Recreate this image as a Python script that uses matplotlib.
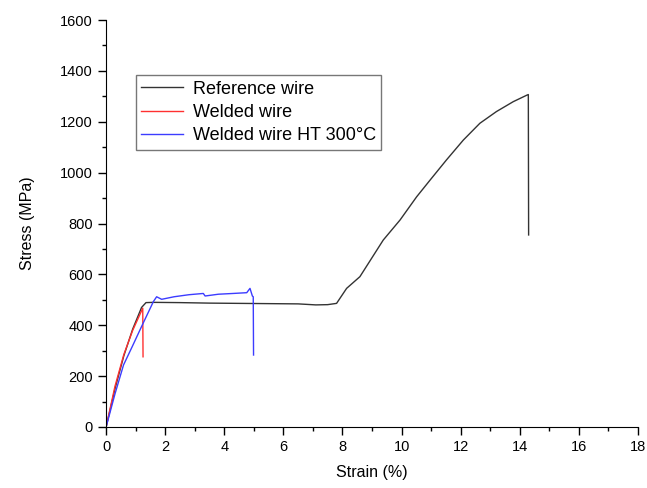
import matplotlib.pyplot as plt
from matplotlib.ticker import MultipleLocator

plt.rcParams['font.family'] = ['Liberation Sans', 'DejaVu Sans']

# Reference wire
ref_strain = [0, 0.3, 0.6, 0.9, 1.2, 1.35, 1.6, 2.5, 3.5, 4.5, 5.5, 6.5, 7.1, 7.5,
              7.8, 8.14, 8.59, 9.38, 9.95, 10.51, 10.96, 11.52, 12.09, 12.65,
              13.21, 13.78, 14.23, 14.29, 14.3]
ref_stress = [0, 150, 280, 385, 470, 489, 490, 489, 487, 486, 485, 484, 480, 481,
              486, 545, 591, 735, 814, 905, 970, 1050, 1128, 1194,
              1240, 1279, 1304, 1307, 755]

# Welded wire
weld_strain = [0, 0.3, 0.6, 0.9, 1.24, 1.25]
weld_stress = [0, 160, 285, 380, 467, 276]

# Welded wire HT 300°C
ht_strain = [0, 0.3, 0.59, 0.9, 1.2, 1.6, 1.71, 1.88, 2.3, 2.8, 3.29, 3.35, 3.8,
             4.3, 4.76, 4.87, 4.95, 4.98, 4.99]
ht_stress = [0, 130, 244, 320, 395, 493, 512, 502, 512, 520, 525, 515, 522,
             525, 528, 545, 515, 512, 283]

fig = plt.figure(figsize=(6.47, 4.88), dpi=100)
ax = fig.add_axes([0.164, 0.125, 0.822, 0.834])

ax.plot(ref_strain, ref_stress, color='#333333', lw=1.0, label='Reference wire')
ax.plot(weld_strain, weld_stress, color='#ff3030', lw=1.0, label='Welded wire')
ax.plot(ht_strain, ht_stress, color='#3c3cff', lw=1.0, label='Welded wire HT 300°C')

ax.set_xlim(0, 18)
ax.set_ylim(0, 1600)
ax.xaxis.set_major_locator(MultipleLocator(2))
ax.xaxis.set_minor_locator(MultipleLocator(1))
ax.yaxis.set_major_locator(MultipleLocator(200))
ax.yaxis.set_minor_locator(MultipleLocator(100))
ax.tick_params(which='major', direction='out', length=6, width=1, labelsize=10.5)
ax.tick_params(which='minor', direction='out', length=3, width=1)
ax.spines['top'].set_visible(False)
ax.spines['right'].set_visible(False)

ax.set_xlabel('Strain (%)', fontsize=11.5, labelpad=8)
ax.set_ylabel('Stress (MPa)', fontsize=11.5, labelpad=18)

leg = ax.legend(loc='upper left', bbox_to_anchor=(0.056, 0.864), fontsize=13,
                frameon=True, fancybox=False, edgecolor='#555555',
                handlelength=2.3, labelspacing=0.35, borderpad=0.3,
                handletextpad=0.55, borderaxespad=0)
leg.get_frame().set_linewidth(1.0)

fig.savefig('out.png', dpi=100)
